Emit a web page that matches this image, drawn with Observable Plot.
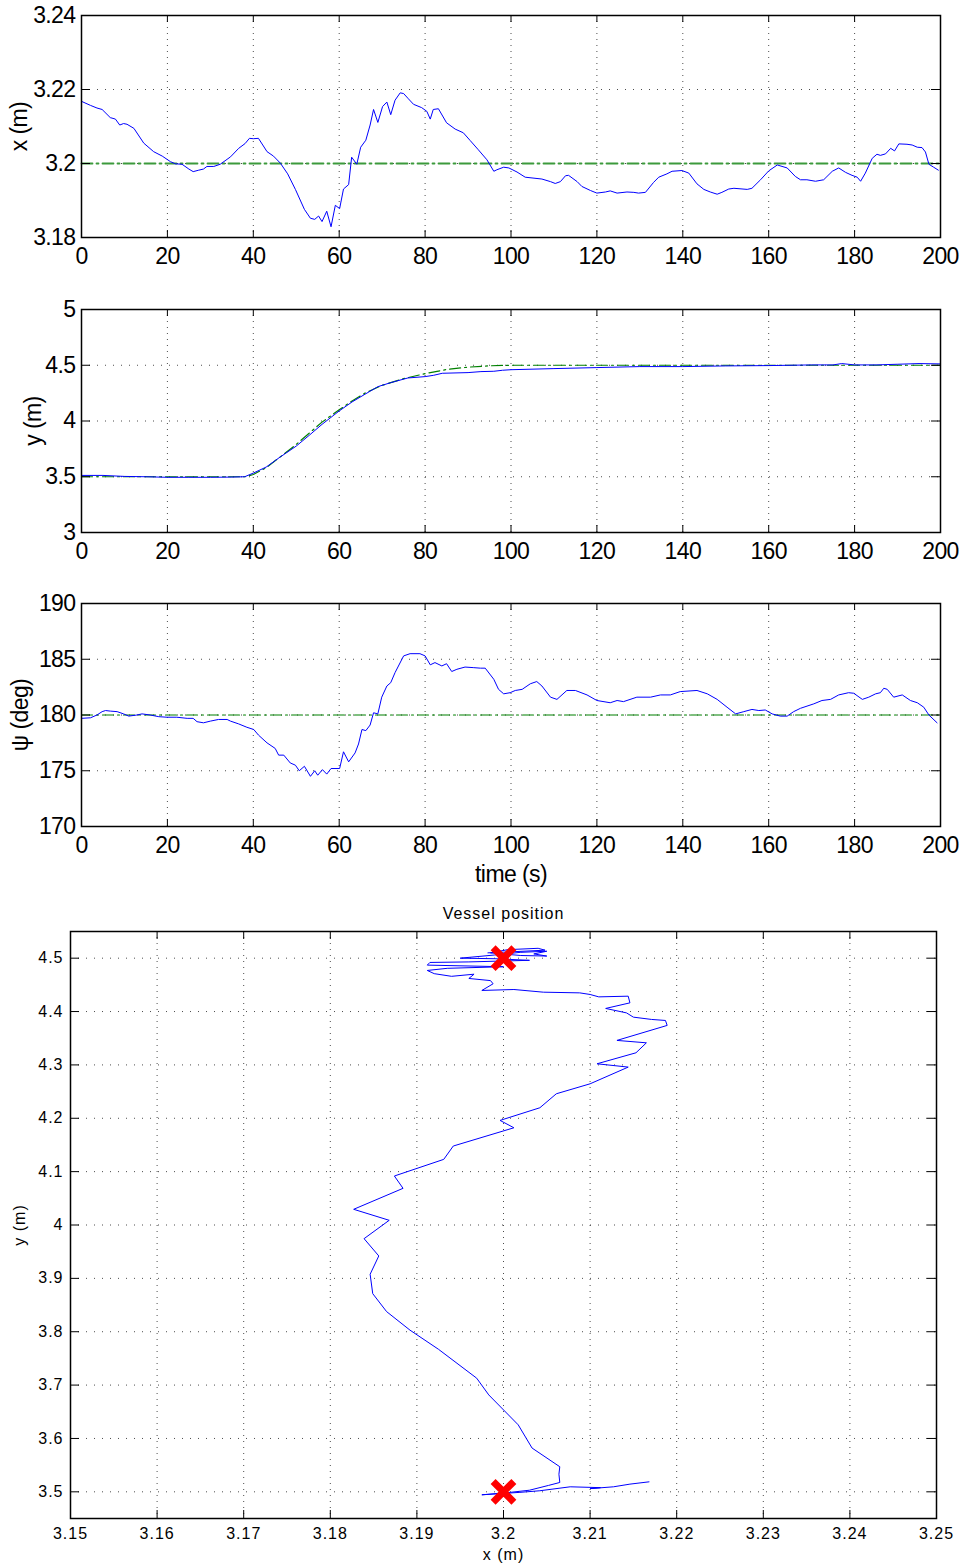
<!DOCTYPE html>
<html><head><meta charset="utf-8">
<script src="https://cdn.jsdelivr.net/npm/d3@7"></script>
<script src="https://cdn.jsdelivr.net/npm/@observablehq/plot@0.6"></script>
<style>
html,body{margin:0;padding:0;background:#fff;}
#root{position:relative;width:961px;height:1564px;overflow:hidden;background:#fff;}
.panel{position:absolute;left:0;}
.panel svg{display:block;}
</style></head><body><div id="root"></div>
<script>
// ---------------- DATA ----------------
const timeTicks = [0, 20, 40, 60, 80, 100, 120, 140, 160, 180, 200];

// surge position x(t)
const xTime = [0,2.1,3.6,4.8,6.7,7.9,8.9,9.8,10.6,12.2,14.5,16.8,18.8,20.7,21.9,23.4,25,26,27.3,28.4,29.2,30.8,32.3,34.7,36.6,38.1,39.1,40,41.2,43.2,44.7,46.3,48,49.8,51.9,53.3,54.3,55.2,56,57.1,58.1,59.1,60.1,61,62.2,62.9,64.1,65,66.2,67.2,68,69,70.1,71.1,72,73,74.2,75,76.1,77.3,79.2,80.4,81.2,81.9,83.1,85,87,88.9,90.5,92.4,94.4,96,96.7,98.3,99.5,101.4,103.3,107.2,109.2,110.3,111.5,112.7,113.4,115.4,116.5,118.5,120,122,123.1,124.7,127,128.6,129.7,131.3,133.2,134.4,136.3,137.5,139.8,141.4,143.3,144.9,146.4,148,149.1,150.7,151.9,155,156.1,158.1,160,162,164.3,166.2,167.4,168.9,170.9,172.8,174.8,176.3,177.9,179.4,180.6,181.4,182.5,184.1,185.2,186,187.2,188.4,189.3,190.3,192.2,193.4,194.6,195.7,196.5,197.3,198.4,199.5];
const xPos = [3.2168,3.2157,3.2150,3.2146,3.2124,3.2120,3.2104,3.2108,3.2106,3.2095,3.2055,3.2032,3.2020,3.2005,3.1999,3.1998,3.1985,3.1978,3.1982,3.1985,3.1992,3.1992,3.1998,3.2018,3.2041,3.2054,3.2068,3.2067,3.2068,3.2032,3.2020,3.2001,3.1972,3.1930,3.1876,3.1852,3.1849,3.1858,3.1843,3.1871,3.1829,3.1887,3.1878,3.1931,3.1943,3.2017,3.1998,3.2044,3.2063,3.2104,3.2146,3.2111,3.2154,3.2166,3.2132,3.2171,3.2191,3.2189,3.2175,3.2160,3.2151,3.2141,3.2120,3.2146,3.2148,3.2110,3.2093,3.2083,3.2062,3.2037,3.2010,3.1979,3.1983,3.1990,3.1988,3.1977,3.1963,3.1958,3.1951,3.1946,3.1951,3.1967,3.1968,3.1951,3.1938,3.1927,3.1920,3.1923,3.1926,3.1920,3.1923,3.1922,3.1920,3.1922,3.1949,3.1963,3.1972,3.1979,3.1981,3.1974,3.1945,3.1930,3.1923,3.1917,3.1922,3.1931,3.1933,3.1930,3.1933,3.1956,3.1980,3.1996,3.1988,3.1965,3.1956,3.1956,3.1952,3.1956,3.1979,3.1988,3.1976,3.1968,3.1963,3.1952,3.1974,3.2014,3.2025,3.2022,3.2026,3.2041,3.2034,3.2053,3.2052,3.2050,3.2044,3.2043,3.2031,3.1998,3.1990,3.1982];
const xRefTime = [0, 200];
const xRefPos = [3.2, 3.2];
const xTicksY = [3.18, 3.2, 3.22, 3.24];

// sway position y(t)
const yTime = [0,5,10,15,20,25,30,35,38,40,43,46,50,53,56,60,63,66,69,72,76,80,82,84,90,93,96,98,100,110,120,130,140,150,160,170,175,177,180,185,190,195,200];
const yPos = [3.512,3.512,3.503,3.500,3.495,3.495,3.495,3.497,3.500,3.533,3.587,3.670,3.775,3.871,3.970,4.090,4.171,4.240,4.308,4.344,4.386,4.398,4.410,4.428,4.434,4.443,4.446,4.455,4.460,4.470,4.479,4.488,4.488,4.494,4.497,4.503,4.503,4.515,4.503,4.503,4.509,4.515,4.512];
const yRefTime = [0,38,40,43,46,50,53,56,60,63,66,70,75,80,85,90,95,100,200];
const yRefPos = [3.5,3.5,3.52,3.58,3.67,3.79,3.89,3.99,4.10,4.18,4.25,4.32,4.38,4.425,4.462,4.483,4.495,4.5,4.5];
const yTicksY = [3, 3.5, 4, 4.5, 5];

// heading psi(t)
const psiTime = [0,2.1,3.6,4.8,5.6,6.7,8.3,9.8,11,12.9,14.1,16,18,19.9,22.2,24.6,26,26.9,28.4,30,31.9,33.9,34.7,36.6,38.5,40.1,41.2,43.2,45.1,45.9,47.1,48.6,49.8,50.7,51.9,53.3,54.3,55,56.1,57.1,58.1,60.1,61,62.2,63.7,64.5,65.3,66.2,67.2,68,69,69.9,71.1,72,73,75,76.5,78.8,80,81.2,82.3,83.9,85,86.2,87.4,89.3,91.2,92.9,94,96,97.1,98.3,99.8,101,102.6,104.5,106,107.2,109.2,110.7,113,115,117.7,120,123.1,124.7,126.2,129.3,132.5,134.8,137.1,139.4,143.3,145.7,148,150.3,152.3,154.2,156.1,157.7,159.2,160.8,162.7,164.3,165.8,167.4,170.5,172.4,174.4,176.3,178.6,179.8,181.8,183.3,184.9,186,186.8,187.6,189.1,191.1,193,194.6,196.1,197.3,199.2];
const psiDeg = [179.7,179.75,180.0,180.3,180.4,180.35,180.3,180.1,179.9,180.0,180.1,180.0,179.85,179.8,179.8,179.7,179.7,179.4,179.3,179.45,179.6,179.6,179.45,179.2,178.9,178.7,178.2,177.5,177.0,176.4,176.4,175.7,175.5,175.0,175.4,174.5,175.0,174.6,175.1,174.7,175.2,175.2,176.7,175.8,176.6,177.4,178.7,178.6,179.1,180.2,180.1,181.6,182.6,182.9,183.8,185.3,185.5,185.5,185.3,184.5,184.7,184.4,184.6,183.9,184.1,184.3,184.25,184.2,184.2,183.2,182.3,181.9,182.0,182.2,182.3,182.8,183.0,182.6,181.6,181.4,182.2,182.2,181.8,181.3,181.1,181.3,181.2,181.6,181.6,181.8,181.8,182.1,182.2,181.9,181.4,180.7,180.1,180.3,180.5,180.4,180.45,180.1,179.9,179.9,180.3,180.6,181.0,181.3,181.4,181.8,182.0,181.95,181.4,181.6,181.9,182.0,182.4,182.3,181.6,181.8,181.3,181.1,180.7,180.0,179.3];
const psiRefTime = [0, 200];
const psiRefDeg = [180, 180];
const psiTicksY = [170, 175, 180, 185, 190];

// vessel position (x, y) trajectory
const trajX = [3.2168,3.2146,3.2127,3.2108,3.2100,3.2112,3.2077,3.2042,3.2019,3.1975,3.2005,3.2030,3.2052,3.2065,3.2064,3.2065,3.2033,3.2017,3.1983,3.1969,3.1925,3.1892,3.1865,3.1849,3.1846,3.1856,3.1839,3.1868,3.1827,3.1884,3.1874,3.1931,3.1942,3.2012,3.1996,3.2042,3.2061,3.2100,3.2144,3.2108,3.2153,3.2165,3.2131,3.2189,3.2187,3.2171,3.2150,3.2142,3.2118,3.2146,3.2144,3.2110,3.2100,3.2088,3.2046,3.2012,3.1975,3.1988,3.1985,3.1960,3.1966,3.1940,3.1920,3.1912,3.1935,3.2000,3.1912,3.1915,3.1960,3.2030,3.1990,3.1950,3.1990,3.2020,3.2050,3.2035,3.2050,3.2020,3.1985,3.2005,3.2040,3.2048,3.2010,3.1982];
const trajY = [3.5187,3.5144,3.5094,3.5070,3.5060,3.5078,3.5094,3.5020,3.4990,3.4944,3.4985,3.5030,3.5120,3.5175,3.5330,3.5470,3.5820,3.6255,3.6816,3.7130,3.7670,3.8030,3.8377,3.8714,3.9077,3.9420,3.9744,4.0088,4.0294,4.0687,4.0918,4.1230,4.1480,4.1822,4.1960,4.2197,4.2459,4.2646,4.2959,4.3021,4.3227,4.3414,4.3459,4.3740,4.3833,4.3852,4.3895,4.3975,4.4058,4.4163,4.4288,4.4275,4.4320,4.4350,4.4363,4.4413,4.4395,4.4520,4.4580,4.4620,4.4700,4.4660,4.4710,4.4770,4.4810,4.4840,4.4870,4.4920,4.4930,4.4960,4.4990,4.5000,4.5060,4.5110,4.5130,4.5080,4.5040,4.5050,4.5100,4.5160,4.5185,4.5150,4.5120,4.5100];
const targetX = [3.2, 3.2];
const targetY = [3.5, 4.5];
const posTicksX = [3.15, 3.16, 3.17, 3.18, 3.19, 3.2, 3.21, 3.22, 3.23, 3.24, 3.25];
const posTicksY = [3.5, 3.6, 3.7, 3.8, 3.9, 4, 4.1, 4.2, 4.3, 4.4, 4.5];

// ---------------- DRAWING ----------------
const root = document.getElementById("root");
const BLUE = "#0000ff", GREEN = "#008000";
const DASHDOT = "11,4,2,4";
const GRID = {stroke: "#000", strokeOpacity: 0.7, strokeWidth: 1};
const W = 961;
const TOPFONT = "'Liberation Sans',Arial,Helvetica,sans-serif";

function place(svg, top) {
  const d = document.createElement("div");
  d.className = "panel";
  d.style.top = top + "px";
  d.appendChild(svg);
  root.appendChild(d);
}

function timePanel({height, mt, mb, yDomain, yTicks, yLabel, yLabelOffset, tData, vData, rtData, rvData, xLabel, refColor = GREEN, refWidth = 1.2}) {
  const ml = 81, mr = 21;
  const frameH = height - mt - mb, frameW = W - ml - mr;
  const series = tData.map((t, i) => ({t, v: vData[i]}));
  const ref = rtData.map((t, i) => ({t, v: rvData[i]}));
  return Plot.plot({
    width: W, height, marginLeft: ml, marginRight: mr, marginTop: mt, marginBottom: mb,
    style: {fontFamily: TOPFONT, fontSize: "23px", letterSpacing: "-0.6px", color: "#000", background: "#fff", overflow: "visible"},
    x: {domain: [0, 200]},
    y: {domain: yDomain},
    marks: [
      Plot.ruleX(timeTicks, {x: d => d, ...GRID, strokeDasharray: "1,5"}),
      Plot.ruleY(yTicks, {y: d => d, ...GRID, strokeDasharray: "1,7"}),
      Plot.line(ref, {x: "t", y: "v", stroke: refColor, strokeWidth: refWidth, strokeDasharray: DASHDOT}),
      Plot.line(series, {x: "t", y: "v", stroke: BLUE, strokeWidth: 1}),
      Plot.tickX(timeTicks, {x: d => d, insetTop: frameH - 7, stroke: "#000"}),
      Plot.tickX(timeTicks, {x: d => d, insetBottom: frameH - 7, stroke: "#000"}),
      Plot.tickY(yTicks, {y: d => d, insetRight: frameW - 9, stroke: "#000"}),
      Plot.tickY(yTicks, {y: d => d, insetLeft: frameW - 9, stroke: "#000"}),
      Plot.frame({stroke: "#000", strokeWidth: 1.5}),
      Plot.axisX(timeTicks, {tickSize: 0, tickPadding: 10, tickFormat: d => String(d), label: xLabel ?? null, labelAnchor: "center", labelOffset: 55, labelArrow: "none"}),
      Plot.axisY(yTicks, {tickSize: 0, tickPadding: 6, tickFormat: d => String(d), label: yLabel, labelAnchor: "center", labelOffset: yLabelOffset, labelArrow: "none"})
    ]
  });
}

place(timePanel({height: 280, mt: 15, mb: 43, yDomain: [3.18, 3.24], yTicks: xTicksY, yLabel: "x (m)", yLabelOffset: 71,
  tData: xTime, vData: xPos, rtData: xRefTime, rvData: xRefPos, refColor: "#3c9a3c", refWidth: 1.8}), 0);
place(timePanel({height: 280, mt: 14, mb: 43, yDomain: [3, 5], yTicks: yTicksY, yLabel: "y (m)", yLabelOffset: 57,
  tData: yTime, vData: yPos, rtData: yRefTime, rvData: yRefPos}), 295);
place(timePanel({height: 300, mt: 13, mb: 64, yDomain: [170, 190], yTicks: psiTicksY, yLabel: "ψ (deg)", yLabelOffset: 70,
  tData: psiTime, vData: psiDeg, rtData: psiRefTime, rvData: psiRefDeg, xLabel: "time (s)"}), 590);

// vessel position panel
(function () {
  const height = 669, mt = 36, mb = 46, ml = 70, mr = 25;
  const frameH = height - mt - mb, frameW = W - ml - mr;
  const traj = trajX.map((x, i) => ({x, y: trajY[i]}));
  const targets = targetX.map((x, i) => ({x, y: targetY[i]}));
  const svg = Plot.plot({
    width: W, height, marginLeft: ml, marginRight: mr, marginTop: mt, marginBottom: mb,
    style: {fontFamily: "'Liberation Sans',Arial,sans-serif", fontSize: "16px", letterSpacing: "1px", color: "#000", background: "#fff", overflow: "visible"},
    x: {domain: [3.15, 3.25]},
    y: {domain: [3.45, 4.55]},
    marks: [
      Plot.ruleX(posTicksX, {x: d => d, ...GRID, strokeDasharray: "1,5"}),
      Plot.ruleY(posTicksY, {y: d => d, ...GRID, strokeDasharray: "1,7"}),
      Plot.line(traj, {x: "x", y: "y", stroke: BLUE, strokeWidth: 1}),
      Plot.dot(targets, {x: "x", y: "y", symbol: "times", r: 9.5, stroke: "#ff0000", strokeWidth: 7}),
      Plot.tickX(posTicksX, {x: d => d, insetTop: frameH - 8, stroke: "#000"}),
      Plot.tickX(posTicksX, {x: d => d, insetBottom: frameH - 8, stroke: "#000"}),
      Plot.tickY(posTicksY, {y: d => d, insetRight: frameW - 9, stroke: "#000"}),
      Plot.tickY(posTicksY, {y: d => d, insetLeft: frameW - 9, stroke: "#000"}),
      Plot.frame({stroke: "#000", strokeWidth: 1.5}),
      Plot.text(["Vessel position"], {text: d => d, frameAnchor: "top", dy: -24, fontSize: 16}),
      Plot.axisX(posTicksX, {tickSize: 0, tickPadding: 9, tickFormat: d => String(d), label: "x (m)", labelAnchor: "center", labelOffset: 41, labelArrow: "none"}),
      Plot.axisY(posTicksY, {tickSize: 0, tickPadding: 7, tickFormat: d => String(d), label: "y (m)", labelAnchor: "center", labelOffset: 57, labelArrow: "none"})
    ]
  });
  place(svg, 895);
})();
</script></body></html>
